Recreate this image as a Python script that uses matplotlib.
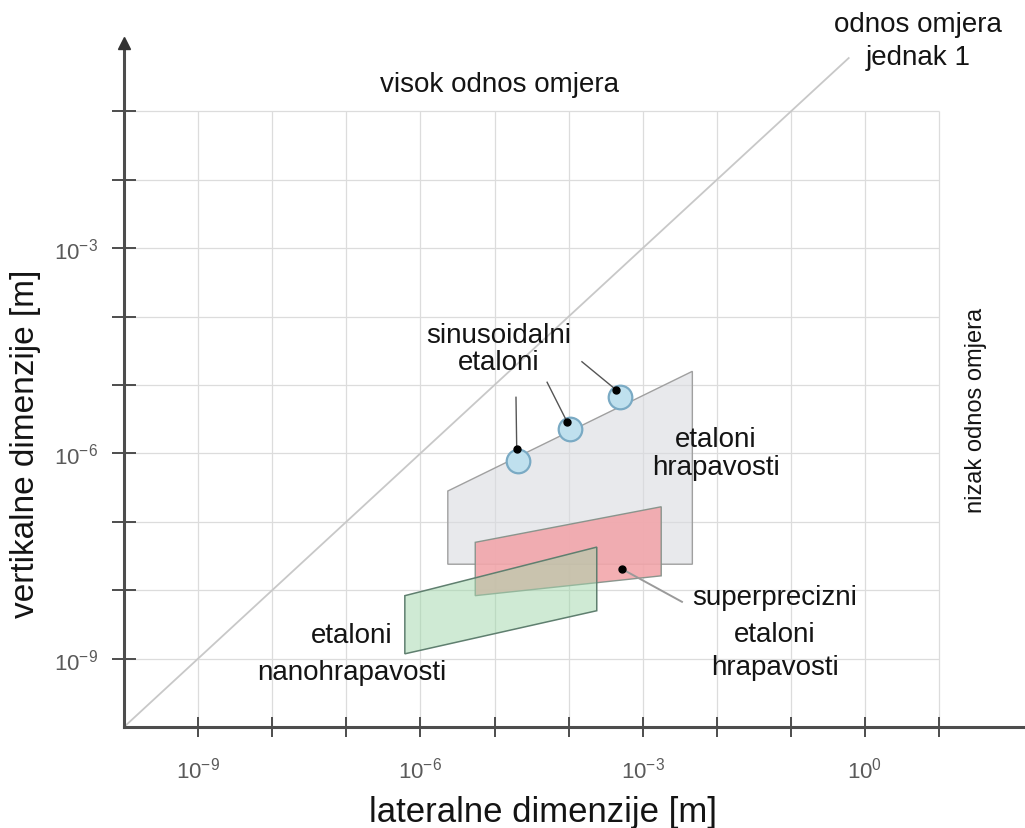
import matplotlib
matplotlib.use("Agg")
import matplotlib.pyplot as plt
import numpy as np

# decades (log10 of metres) for the grid and ticks
x_decades = np.arange(-9, 2)
y_decades = np.arange(-9, 0)
x_labelled = [-9, -6, -3, 0]
y_labelled = [-9, -6, -3]

# regions, log10 of metres: (lateral, vertical)
rough_x = [-5.63, -2.33, -2.33, -5.63]      # etaloni hrapavosti
rough_y = [-6.55, -4.80, -7.62, -7.62]
super_x = [-5.26, -2.75, -2.75, -5.26]      # superprecizni etaloni
super_y = [-7.30, -6.78, -7.79, -8.08]
nano_x = [-6.21, -3.62, -3.62, -6.21]       # etaloni nanohrapavosti
nano_y = [-8.08, -7.37, -8.30, -8.93]

# sinusoidal standards (circles), their marker dots and leader tops
sine_x = [-4.68, -3.98, -3.31]
sine_y = [-6.11, -5.64, -5.18]
sine_dot_x = [-4.70, -4.02, -3.36]
sine_dot_y = [-5.94, -5.54, -5.07]
sine_lead_x = [-4.71, -4.29, -3.82]
sine_lead_y = [-5.18, -4.96, -4.66]

# superprecise marker dot and leader end
super_dot = (-3.28, -7.69)
super_lead = (-2.47, -8.17)

# aspect ratio = 1 line
diag = [-10, -0.22]

W, H = 1025, 829
plt.rcParams['font.family'] = ['Liberation Sans', 'DejaVu Sans']
plt.rcParams['mathtext.fontset'] = 'custom'
plt.rcParams['mathtext.rm'] = 'Liberation Sans'
plt.rcParams['mathtext.it'] = 'Liberation Sans'

fig = plt.figure(figsize=(W / 100, H / 100), dpi=100)
ax = fig.add_axes([124 / W, 1 - 728 / H, 901 / W, 684 / H])
ax.set_xscale('log')
ax.set_yscale('log')
ax.set_xlim(1e-10, 10 ** (-10 + 901 / 74.1))
ax.set_ylim(1e-10, 1e0)

p = lambda v: 10.0 ** np.asarray(v, dtype=float)

# grid limited to the box
ax.vlines(p(x_decades), 1e-10, 1e-1, color='#dcdcdc', lw=0.9, zorder=1)
ax.hlines(p(y_decades), 1e-10, 1e1, color='#dcdcdc', lw=0.9, zorder=1)

ax.plot(p(diag), p(diag), color='#c8c8c8', lw=1.3, zorder=2)

ax.fill(p(rough_x), p(rough_y), fc='#d9dbe0', alpha=0.6, zorder=3)
ax.fill(p(rough_x), p(rough_y), fc='none', ec='#a0a0a0', lw=1.0, zorder=3)
ax.fill(p(super_x), p(super_y), fc='#f2a6ab', ec='#7f8f86', lw=1.0, alpha=0.9, zorder=4)
ax.fill(p(nano_x), p(nano_y), fc='#a0d7aa', alpha=0.5, zorder=5)
ax.fill(p(nano_x), p(nano_y), fc='none', ec='#5f7f6f', lw=1.1, zorder=5)

ax.plot(p(sine_x), p(sine_y), 'o', ms=17, mfc='#bfe0ee', mec='#7aaac4', mew=1.6, zorder=6)
for lx, ly, dx, dy in zip(sine_lead_x, sine_lead_y, sine_dot_x, sine_dot_y):
    ax.plot(p([lx, dx]), p([ly, dy]), color='#555555', lw=1.0, zorder=7)
ax.plot(p(sine_dot_x), p(sine_dot_y), 'o', ms=5, color='black', zorder=8)

ax.plot(p([super_dot[0], super_lead[0]]), p([super_dot[1], super_lead[1]]),
        color='#9a9a9a', lw=1.4, zorder=7)
ax.plot(p(super_dot[0]), p(super_dot[1]), 'o', ms=5, color='black', zorder=8)

# axes look: arrowed dark axes, crossing ticks
for s in ['top', 'right']:
    ax.spines[s].set_visible(False)
for s in ['left', 'bottom']:
    ax.spines[s].set_color('#4d4d4d')
    ax.spines[s].set_linewidth(2.2)
ax.plot([1e-10], [1e0], marker='^', ms=8, color='#333333', clip_on=False, zorder=10)

ax.minorticks_off()
ax.set_xticks(p(x_decades))
ax.set_xticklabels(['$10^{%d}$' % d if d in x_labelled else '' for d in x_decades])
ax.set_yticks(p(y_decades))
ax.set_yticklabels(['$10^{%d}$' % d if d in y_labelled else '' for d in y_decades])
ax.tick_params(axis='x', direction='inout', length=14, width=1.4, color='#4d4d4d',
               labelsize=16, labelcolor='#5a5a5a', pad=14)
ax.tick_params(axis='y', direction='inout', length=17, width=1.4, color='#4d4d4d',
               labelsize=16, labelcolor='#5a5a5a', pad=10)


def put(lines, cx, baselines, size=20, **kw):
    for s, b in zip(lines, baselines):
        fig.text(cx / W, 1 - b / H, s, ha='center', va='baseline', fontsize=size,
                 color='#141414', **kw)


put(['visok odnos omjera'], 500, [92])
put(['odnos omjera', 'jednak 1'], 918, [32, 65])
put(['sinusoidalni', 'etaloni'], 499, [343, 370])
put(['etaloni', 'hrapavosti'], 716, [447, 475])
put(['superprecizni', 'etaloni', 'hrapavosti'], 775, [605, 642, 675])
put(['etaloni', 'nanohrapavosti'], 352, [643, 680])
fig.text(976 / W, 1 - 410 / H, 'nizak odnos omjera', rotation=90, ha='center',
         va='center', fontsize=17, color='#141414')

fig.text(543 / W, 1 - 822 / H, 'lateralne dimenzije [m]', ha='center', va='baseline',
         fontsize=25, color='#141414')
fig.text(26 / W, 1 - 444 / H, 'vertikalne dimenzije [m]', rotation=90, ha='center',
         va='center', fontsize=24, color='#141414')

fig.savefig('out.png', dpi=100)
